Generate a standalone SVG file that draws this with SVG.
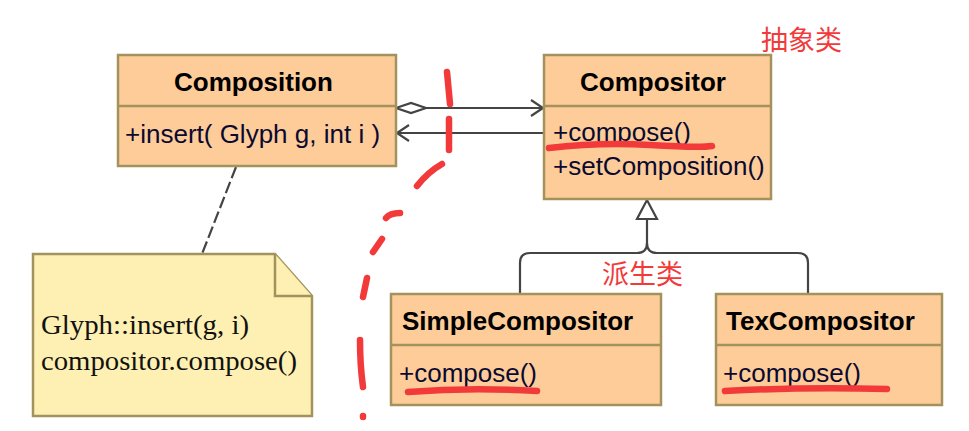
<svg xmlns="http://www.w3.org/2000/svg" width="969" height="431" viewBox="0 0 969 431">
<style>
.box{fill:#fecc98;stroke:#a3925e;stroke-width:2.5}
.note{fill:#fdf0b2;stroke:#a3925e;stroke-width:2.5}
.title{font-family:"Liberation Sans",Arial,sans-serif;font-size:26px;font-weight:bold;fill:#000}
.op{font-family:"Liberation Sans",Arial,sans-serif;font-size:26px;fill:#0a0a30}
.ntext{font-family:"Liberation Serif","Times New Roman",serif;font-size:27px;fill:#111}
.conn{fill:none;stroke:#444;stroke-width:2.2}
.red{fill:none;stroke:#f23a3a;stroke-width:6.5;stroke-linecap:round;stroke-linejoin:round}
.redt{font-family:"Noto Sans CJK SC",sans-serif;font-size:27px;fill:#f23a3a}
</style>
<rect width="969" height="431" fill="#fff"/>
<g id="connectors">
  <path class="conn" d="M236,167 L202,254" stroke-dasharray="12,4"/>
  <path class="conn" d="M426,108 H543"/>
  <path class="conn" d="M396,108 L411,103 L426,108 L411,113 Z" fill="#fff"/>
  <path class="conn" d="M531,100 L543,108 L531,116"/>
  <path class="conn" d="M544,133 H398"/>
  <path class="conn" d="M409,125 L397,133 L409,141"/>
  <path class="conn" d="M647,220 V243 Q647,253 637,253 H530 Q520,253 520,263 V294"/>
  <path class="conn" d="M647,243 Q647,253 657,253 H798 Q808,253 808,263 V294"/>
  <path class="conn" d="M647,200 L637,219 L657,219 Z" fill="#fff"/>
</g>
<g id="Composition">
  <rect class="box" x="118" y="55" width="278" height="111"/>
  <line class="box" x1="118" y1="106" x2="396" y2="106"/>
  <text class="title" x="174" y="91">Composition</text>
  <text class="op" x="125" y="143">+insert( Glyph g, int i )</text>
</g>
<g id="Compositor">
  <rect class="box" x="544" y="55" width="227" height="144"/>
  <line class="box" x1="544" y1="106" x2="771" y2="106"/>
  <text class="title" x="580" y="91">Compositor</text>
  <text class="op" x="553" y="141">+compose()</text>
  <text class="op" x="553" y="175">+setComposition()</text>
</g>
<g id="SimpleCompositor">
  <rect class="box" x="391" y="294" width="270" height="111"/>
  <line class="box" x1="391" y1="345" x2="661" y2="345"/>
  <text class="title" x="402" y="330">SimpleCompositor</text>
  <text class="op" x="399" y="382">+compose()</text>
</g>
<g id="TexCompositor">
  <rect class="box" x="716" y="294" width="226" height="111"/>
  <line class="box" x1="716" y1="345" x2="942" y2="345"/>
  <text class="title" x="726" y="330">TexCompositor</text>
  <text class="op" x="723" y="382">+compose()</text>
</g>
<g id="note">
  <path class="note" d="M33,254 H275 L312,296 V416 H33 Z"/>
  <path class="note" d="M275,254 V296 H312"/>
  <text class="ntext" x="41" y="334" textLength="208" lengthAdjust="spacingAndGlyphs">Glyph::insert(g, i)</text>
  <text class="ntext" x="41" y="370" textLength="256" lengthAdjust="spacingAndGlyphs">compositor.compose()</text>
</g>
<g id="annotations">
  <text class="redt" x="761" y="50">抽象类</text>
  <text class="redt" x="602" y="284">派生类</text>
  <path class="red" d="M549,148 Q600,142 650,145 T712,146"/>
  <path class="red" d="M408,392 Q470,387 537,391"/>
  <path class="red" d="M725,391 Q800,387 887,389"/>
  <path class="red" d="M447,72 L450,104"/>
  <path class="red" d="M449,119 L449,150"/>
  <path class="red" d="M442,164 Q428,172 417,186"/>
  <path class="red" d="M386,218 Q390,213 400,213"/>
  <path class="red" d="M382,239 L373,252"/>
  <path class="red" d="M367,278 L363,297"/>
  <path class="red" d="M360,340 Q360,365 363,387"/>
  <path class="red" d="M363,416 L363,417"/>
</g>
</svg>
